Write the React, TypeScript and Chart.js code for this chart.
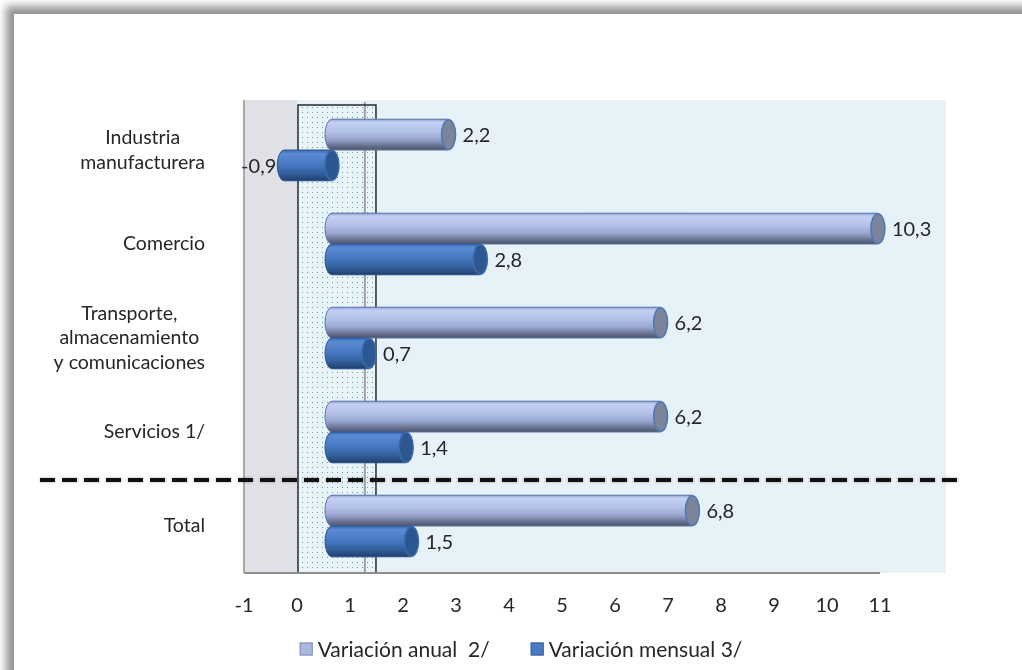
import React, { useEffect, useRef } from "react";
import { Chart, registerables } from "chart.js";

Chart.register(...registerables);

// ---------- data ----------
const categories: string[][] = [
  ["Industria", "manufacturera"],
  ["Comercio"],
  ["Transporte,", "almacenamiento", "y comunicaciones"],
  ["Servicios 1/"],
  ["Total"],
];
const seriesNames = ["Variación anual  2/", "Variación mensual 3/"];
const anual = [2.2, 10.3, 6.2, 6.2, 6.8];
const mensual = [-0.9, 2.8, 0.7, 1.4, 1.5];
const xTickValues = [-1, 0, 1, 2, 3, 4, 5, 6, 7, 8, 9, 10, 11];

// ---------- styles ----------
const FONT = "Lato, 'Open Sans', sans-serif";
const X_MIN = -1;
const X_MAX = 12.245;
const DEPTH = 0.66; // 3D depth shift of the bars (axis units)
const TEXT = "#262626";

type Style = {
  stops: [number, string][];
  fill: string;
  cap: string;
  capStroke: string;
  outline: string;
  legend: string;
  legendBorder: string;
};
const STYLES: Style[] = [
  {
    stops: [
      [0, "#8fa3d6"],
      [0.1, "#c4d0f2"],
      [0.4, "#b3c1e9"],
      [0.65, "#98a6cf"],
      [0.85, "#6b7492"],
      [1, "#4b5269"],
    ],
    fill: "#aab9e2",
    cap: "#7b8499",
    capStroke: "#4d78b5",
    outline: "#5a74a8",
    legend: "#aab9e2",
    legendBorder: "#7f8db5",
  },
  {
    stops: [
      [0, "#3a69b0"],
      [0.12, "#5a8bd3"],
      [0.45, "#4878c2"],
      [0.75, "#34629f"],
      [1, "#213f6b"],
    ],
    fill: "#4a7cc4",
    cap: "#2d5791",
    capStroke: "#3a6aad",
    outline: "#2c5590",
    legend: "#4a7cc4",
    legendBorder: "#33609e",
  },
];

const fmt = (v: number) => v.toFixed(1).replace(".", ",");

function makeDots(ctx: CanvasRenderingContext2D) {
  const c = document.createElement("canvas");
  c.width = 5;
  c.height = 5;
  const p = c.getContext("2d")!;
  p.fillStyle = "#e9f4f8";
  p.fillRect(0, 0, 5, 5);
  p.fillStyle = "rgba(60,140,165,0.8)";
  p.fillRect(2, 2, 1, 1);
  return ctx.createPattern(c, "repeat");
}

const decor = {
  id: "decor",
  beforeDatasetsDraw(chart: any) {
    const { ctx, chartArea: a, scales } = chart;
    const x = scales.x;
    const px = (v: number) => x.getPixelForValue(v);
    const top = a.top - 3;
    const bottom = a.bottom;
    ctx.save();
    // back wall
    ctx.fillStyle = "#e7f2f8";
    ctx.fillRect(px(0), top, a.right - px(0), bottom - top);
    // side wall
    ctx.fillStyle = "#dfe1e6";
    ctx.fillRect(a.left, top, px(0) - a.left, bottom - top);
    // dotted floor strip
    const pat = makeDots(ctx);
    if (pat) {
      ctx.fillStyle = pat;
      ctx.fillRect(px(0), top + 5, px(1.49) - px(0), bottom - top - 5);
    }
    // left wall edge
    ctx.strokeStyle = "#a9a9a9";
    ctx.lineWidth = 2;
    ctx.beginPath();
    ctx.moveTo(a.left, top);
    ctx.lineTo(a.left, bottom);
    ctx.stroke();
    // gray inner line
    ctx.strokeStyle = "#a0a0a0";
    ctx.beginPath();
    ctx.moveTo(px(1.28), top + 2);
    ctx.lineTo(px(1.28), bottom);
    ctx.stroke();
    // black box
    ctx.strokeStyle = "#2a2a2a";
    ctx.lineWidth = 1.5;
    ctx.beginPath();
    ctx.moveTo(px(0) + 1, bottom);
    ctx.lineTo(px(0) + 1, top + 5);
    ctx.lineTo(px(1.49), top + 5);
    ctx.lineTo(px(1.49), bottom);
    ctx.stroke();
    ctx.beginPath();
    ctx.moveTo(px(0) + 1, bottom);
    ctx.lineTo(px(0.47), bottom);
    ctx.stroke();
    // axis line
    ctx.strokeStyle = "#8e8e8e";
    ctx.lineWidth = 2;
    ctx.beginPath();
    ctx.moveTo(a.left, bottom);
    ctx.lineTo(px(11), bottom);
    ctx.stroke();
    ctx.restore();
  },
  afterDatasetsDraw(chart: any) {
    const { ctx } = chart;
    ctx.save();
    chart.data.datasets.forEach((ds: any, di: number) => {
      const meta = chart.getDatasetMeta(di);
      const st = STYLES[di];
      meta.data.forEach((el: any, i: number) => {
        const { x: ex, y, base, height } = el.getProps(
          ["x", "y", "base", "height"],
          true
        );
        const L = Math.min(ex, base);
        const R = Math.max(ex, base);
        const T = y - height / 2;
        const B = y + height / 2;
        const ry = height / 2;
        const rx = 7;
        const g = ctx.createLinearGradient(0, T, 0, B);
        st.stops.forEach(([o, c]) => g.addColorStop(o, c));
        ctx.beginPath();
        ctx.moveTo(R, T);
        ctx.lineTo(L, T);
        ctx.ellipse(L, y, rx, ry, 0, -Math.PI / 2, Math.PI / 2, true);
        ctx.lineTo(R, B);
        ctx.closePath();
        ctx.fillStyle = g;
        ctx.fill();
        ctx.strokeStyle = st.outline;
        ctx.lineWidth = 1;
        ctx.stroke();
        // front cap
        ctx.beginPath();
        ctx.ellipse(R, y, rx, ry - 0.5, 0, 0, Math.PI * 2);
        ctx.fillStyle = st.cap;
        ctx.fill();
        ctx.strokeStyle = st.capStroke;
        ctx.lineWidth = 1.5;
        ctx.stroke();
        // value label
        const v = ds.data[i] as number;
        ctx.fillStyle = TEXT;
        ctx.font = `20px ${FONT}`;
        ctx.textBaseline = "middle";
        if (v >= 0) {
          ctx.textAlign = "left";
          ctx.fillText(fmt(v), R + rx + 7, y + 1);
        } else {
          ctx.textAlign = "right";
          ctx.fillText(fmt(v), L - rx - 1, y + 1);
        }
      });
    });
    ctx.restore();
  },
  afterDraw(chart: any) {
    const { ctx, scales } = chart;
    const yS = scales.y;
    ctx.save();
    // category labels
    ctx.font = `19.5px ${FONT}`;
    ctx.fillStyle = TEXT;
    ctx.textBaseline = "middle";
    ctx.textAlign = "center";
    const right = 205;
    const lh = 24.5;
    (chart.data.labels as string[][]).forEach((lines, i) => {
      const cy = yS.getPixelForValue(i);
      const w = Math.max(...lines.map((l) => ctx.measureText(l).width));
      const cx = right - w / 2;
      lines.forEach((l, k) => {
        ctx.fillText(l, cx, cy + (k - (lines.length - 1) / 2) * lh);
      });
    });
    // dashed separator between last two categories
    const n = chart.data.labels.length;
    const sy = (yS.getPixelForValue(n - 2) + yS.getPixelForValue(n - 1)) / 2 + 1;
    ctx.save();
    ctx.strokeStyle = "#111";
    ctx.lineWidth = 4;
    ctx.setLineDash([15, 7]);
    ctx.shadowColor = "rgba(0,0,0,0.35)";
    ctx.shadowBlur = 3;
    ctx.beginPath();
    ctx.moveTo(40, sy);
    ctx.lineTo(957, sy);
    ctx.stroke();
    ctx.restore();
    // legend
    ctx.font = `21px ${FONT}`;
    ctx.textAlign = "left";
    ctx.textBaseline = "middle";
    const box = 13;
    const gap = 5;
    const spacing = 41;
    const names = chart.data.datasets.map((d: any) => d.label as string);
    const widths = names.map((t: string) => box + gap + ctx.measureText(t).width);
    const total = widths.reduce((s: number, w: number) => s + w, 0) + spacing * (names.length - 1);
    let lx = 521 - total / 2;
    const ly = 649;
    names.forEach((t: string, k: number) => {
      ctx.fillStyle = STYLES[k].legend;
      ctx.fillRect(lx, ly - box / 2, box, box);
      ctx.strokeStyle = STYLES[k].legendBorder;
      ctx.lineWidth = 1;
      ctx.strokeRect(lx + 0.5, ly - box / 2 + 0.5, box - 1, box - 1);
      ctx.fillStyle = TEXT;
      ctx.fillText(t, lx + box + gap, ly + 1);
      lx += widths[k] + spacing;
    });
    ctx.restore();
  },
};

export default function App() {
  const ref = useRef<HTMLCanvasElement | null>(null);
  useEffect(() => {
    if (!ref.current) return;
    const chart = new Chart(ref.current, {
      type: "bar",
      data: {
        labels: categories as any,
        datasets: [
          {
            label: seriesNames[0],
            data: anual,
            backgroundColor: STYLES[0].fill,
            borderWidth: 0,
            xAxisID: "xb",
            yAxisID: "y",
            categoryPercentage: 0.655,
            barPercentage: 1,
          },
          {
            label: seriesNames[1],
            data: mensual,
            backgroundColor: STYLES[1].fill,
            borderWidth: 0,
            xAxisID: "xb",
            yAxisID: "y",
            categoryPercentage: 0.655,
            barPercentage: 1,
          },
        ],
      },
      options: {
        indexAxis: "y",
        responsive: false,
        animation: false,
        events: [],
        layout: { padding: { left: 244, right: 76, top: 103, bottom: 0 } },
        plugins: {
          legend: { display: false },
          tooltip: { enabled: false },
        },
        scales: {
          y: { type: "category", display: false, offset: true },
          xb: {
            type: "linear",
            axis: "x",
            display: false,
            min: X_MIN - DEPTH,
            max: X_MAX - DEPTH,
          } as any,
          x: {
            type: "linear",
            position: "bottom",
            min: X_MIN,
            max: X_MAX,
            grid: { display: false, drawTicks: false },
            border: { display: false },
            afterBuildTicks: (s: any) => {
              s.ticks = xTickValues.map((v) => ({ value: v }));
            },
            afterFit: (s: any) => {
              s.height = 97;
            },
            ticks: {
              padding: 21,
              color: TEXT,
              font: { family: FONT, size: 20 },
              callback: (v: any) => String(v),
            },
          },
        },
      },
      plugins: [decor],
    });
    return () => chart.destroy();
  }, []);

  return (
    <div
      style={{
        position: "absolute",
        left: 0,
        top: 0,
        width: 1022,
        height: 670,
        background: "#fff",
        overflow: "hidden",
      }}
    >
      <div
        style={{
          position: "absolute",
          left: 14,
          top: 14,
          width: 1030,
          height: 680,
          background: "#fff",
          boxShadow: "-8px -8px 8px rgba(0,0,0,0.42)",
        }}
      />
      <canvas
        ref={ref}
        width={1022}
        height={670}
        style={{ position: "absolute", left: 0, top: 0 }}
      />
    </div>
  );
}
